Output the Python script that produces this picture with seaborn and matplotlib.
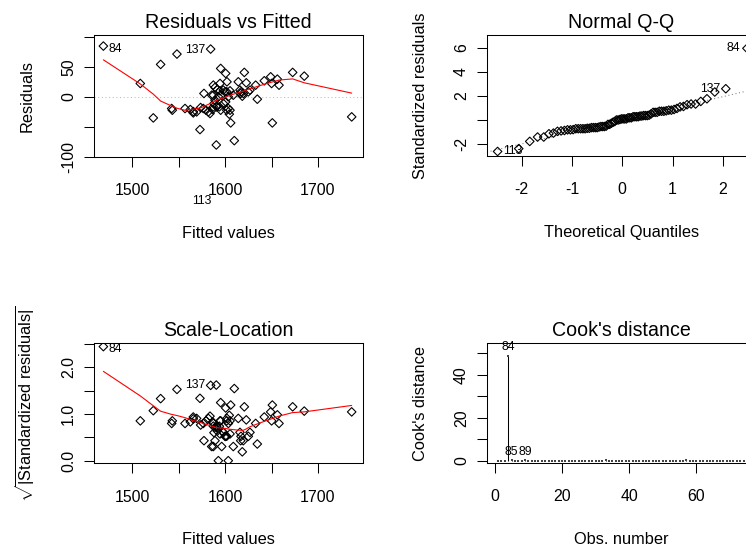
import numpy as np
import pandas as pd
import matplotlib
matplotlib.use("Agg")
import matplotlib.pyplot as plt
import seaborn as sns
from statistics import NormalDist

# ---------------- data ----------------
# observations in row order; row names start at 81
fitted = [1508.6, 1522.6, 1530.5, 1468.8,
          1542.4, 1543.1, 1548.1, 1556.8, 1562.5, 1565.7, 1569.3, 1572.9, 1573.6, 1576.5,
          1577.2, 1579.4, 1581.9, 1583.7, 1586.6, 1587.3, 1587.3, 1588.0, 1589.1, 1589.1,
          1590.9, 1591.6, 1592.7, 1593.8, 1594.5, 1595.2, 1595.2, 1596.3,
          1590.5,
          1598.1, 1598.1, 1600.6, 1600.6, 1601.7, 1602.0, 1603.5, 1604.5, 1605.3, 1605.3,
          1606.0, 1608.8, 1609.9, 1614.2, 1616.0, 1616.8, 1618.5, 1619.6, 1620.7, 1622.8,
          1625.0, 1626.8, 1632.9,
          1584.4,
          1634.7, 1642.2, 1649.1, 1650.1, 1650.9, 1656.3, 1658.1, 1672.8, 1685.3, 1736.4,
          1603.4, 1599.9, 1594.5, 1617.1, 1585.5, 1587.3, 1590.9, 1601.7, 1565.7]
residuals = [22.2, -35.0, 53.9, 84.4,
             -19.4, -22.2, 71.1, -19.4, -21.1, -24.5, -25.0, -54.4, -17.8, -19.4,
             5.6, -22.2, -25.0, -27.7, -21.0, 19.5, 2.8, -11.0, 15.6, -5.6,
             -15.5, 12.3, 0.0, -16.6, 10.0, 47.2, -22.2, 2.8,
             -80.0,
             11.2, -11.1, 38.9, -8.3, 8.4, 25.0, -19.4, -28.8, 10.0, -22.2,
             -43.3, 2.8, -72.8, 25.0, 11.2, 5.6, 1.1, 5.6, 40.6, 23.3,
             8.3, 11.2, 19.4,
             79.4,
             -3.9, 26.7, 33.3, 22.2, -43.3, 29.4, 19.4, 40.6, 34.4, -33.3,
             0.0, 8.3, 22.2, 8.3, 2.8, -16.7, -16.7, -22.2, -26.7]
cooks_distance = [0.12, 0.08, 0.15, 48.8, 0.45, 0.10, 0.05, 0.18, 0.40, 0.06,
                  0.09, 0.14, 0.04, 0.07, 0.11, 0.05, 0.16, 0.03, 0.08, 0.12,
                  0.06, 0.10, 0.04, 0.07, 0.13, 0.05, 0.09, 0.03, 0.06, 0.11,
                  0.08, 0.04, 0.30, 0.05, 0.07, 0.10, 0.03, 0.06, 0.09, 0.04,
                  0.12, 0.05, 0.08, 0.20, 0.06, 0.03, 0.07, 0.10, 0.04, 0.09,
                  0.05, 0.11, 0.06, 0.03, 0.08, 0.05, 0.28, 0.07, 0.04, 0.10,
                  0.06, 0.09, 0.05, 0.12, 0.03, 0.07, 0.08, 0.04, 0.06, 0.10,
                  0.05, 0.09, 0.07, 0.04, 0.06, 0.15]
first_row = 81
sigma = 30.5                       # residual standard error
std_override = {84: 5.97}          # high-leverage point (standardized residual)

titles = ["Residuals vs Fitted", "Normal Q-Q", "Scale-Location", "Cook's distance"]

# ---------------- derived quantities ----------------
n = len(fitted)
rows = np.arange(first_row, first_row + n)
fitted_a = np.array(fitted, float)
resid_a = np.array(residuals, float)
std_a = resid_a / sigma
for rname, v in std_override.items():
    std_a[rname - first_row] = v
sqrt_abs_std = np.sqrt(np.abs(std_a))
obs_index = np.arange(1, n + 1)
cook_a = np.array(cooks_distance, float)


def lowess(x, y, f=2 / 3, iters=3):
    x = np.asarray(x, float)
    y = np.asarray(y, float)
    o = np.argsort(x, kind="stable")
    x, y = x[o], y[o]
    m = len(x)
    ns = max(min(int(f * m + 1e-7), m), 2)
    rw = np.ones(m)
    ys = np.zeros(m)
    rng = x[-1] - x[0]
    for it in range(iters + 1):
        for i in range(m):
            d = np.abs(x - x[i])
            h = np.sort(d)[ns - 1]
            if h > 0:
                r = d / h
                w = np.where(r <= 0.999, (1 - r ** 3) ** 3, 0.0)
                w = np.where(d <= 0.001 * h, 1.0, w)
            else:
                w = (d == 0).astype(float)
            w = w * rw
            sw = w.sum()
            if sw <= 0:
                ys[i] = y[i]
                continue
            w = w / sw
            b = np.sum(w * x)
            c = np.sum(w * (x - b) ** 2)
            if h > 0 and np.sqrt(c) > 0.001 * rng:
                w = w * (1 + (x[i] - b) * (x - b) / c)
            ys[i] = np.sum(w * y)
        res = y - ys
        cmad = 6 * np.median(np.abs(res))
        if cmad < 1e-7 * np.mean(np.abs(y)):
            break
        u = np.abs(res) / cmad
        rw = np.where(u < 0.999, (1 - u ** 2) ** 2, 0.0)
        rw = np.where(u <= 0.001, 1.0, rw)
    return x, ys


# ---------------- styling ----------------
sns.set_theme(style="white")
plt.rcParams["font.family"] = ["Liberation Sans", "DejaVu Sans"]
plt.rcParams["mathtext.fontset"] = "custom"
plt.rcParams["mathtext.rm"] = "Liberation Sans"
plt.rcParams["mathtext.it"] = "Liberation Sans:italic"
plt.rcParams["mathtext.bf"] = "Liberation Sans:bold"
plt.rcParams["axes.unicode_minus"] = False

W, H = 746, 546
fig = plt.figure(figsize=(W / 100, H / 100), dpi=100)
fig.patch.set_facecolor("white")

PX = 0.72  # points per pixel at dpi 100
TICK_FS = 11.4
LAB_FS = 11.8
TITLE_FS = 14.15
ID_FS = 8.8


def rect(l, r, t, b):
    return [l / W, 1 - b / H, (r - l) / W, (b - t) / H]


def style_axes(ax, box, xlim, ylim, xticks, xlabels, yticks, ylabels, title, xlab, ylab):
    l, r, t, b = box
    ax.set_xlim(*xlim)
    ax.set_ylim(*ylim)
    ax.set_facecolor("white")
    for s in ax.spines.values():
        s.set_visible(True)
        s.set_color("black")
        s.set_linewidth(0.75)
    ax.tick_params(axis="both", direction="out", length=10 * PX, width=0.75,
                   color="black", labelcolor="black", labelsize=TICK_FS,
                   bottom=True, left=True, top=False, right=False)
    ax.tick_params(axis="x", pad=28.3 * PX)
    ax.tick_params(axis="y", pad=11 * PX)
    ax.set_xticks(xticks, xlabels)
    ax.set_yticks(yticks, ylabels)
    for lab in ax.get_xticklabels():
        lab.set_verticalalignment("baseline")
    for lab in ax.get_yticklabels():
        lab.set_rotation(90)
        lab.set_rotation_mode("anchor")
        lab.set_horizontalalignment("center")
        lab.set_verticalalignment("baseline")
    ax.set_title(title, fontsize=TITLE_FS, pad=7.3 * PX, color="black")
    ax.set_xlabel(xlab, fontsize=LAB_FS, color="black")
    ax.set_ylabel(ylab, fontsize=LAB_FS, color="black")
    ax.xaxis.label.set_verticalalignment("baseline")
    ax.yaxis.label.set_verticalalignment("baseline")
    ax.xaxis.set_label_coords(0.5, -80.6 / (b - t))
    ax.yaxis.set_label_coords(-62.3 / (r - l), 0.5)
    ax.grid(False)


def points(ax, x, y):
    sns.scatterplot(x=x, y=y, ax=ax, marker="D", s=19, facecolor="none",
                    edgecolor="black", linewidth=0.8, legend=False, zorder=3)


def label(ax, txt, x, y, dx, dy, ha):
    ax.annotate(txt, (x, y), xytext=(dx, dy), textcoords="offset pixels",
                ha=ha, va="center", fontsize=ID_FS, color="black",
                annotation_clip=False)


def idx(rname):
    return rname - first_row


# ---- Residuals vs Fitted ----
box1 = (94, 363, 35, 157)
ax1 = fig.add_axes(rect(*box1))
ax1.axhline(0, color="#BEBEBE", lw=0.75, ls=(0, (1, 2.5)), zorder=1)
points(ax1, fitted_a, resid_a)
lx, ly = lowess(fitted_a, resid_a)
sns.lineplot(x=lx, y=ly, ax=ax1, color="red", lw=0.8, sort=False, estimator=None, zorder=4)
style_axes(ax1, box1, (1458.7, 1748.6), (-100, 102.8),
           [1500, 1550, 1600, 1650, 1700], ["1500", "", "1600", "", "1700"],
           [-100, -50, 0, 50, 100], ["-100", "", "0", "50", ""],
           titles[0], "Fitted values", "Residuals")
i84, i113, i137 = idx(84), idx(113), idx(137)
label(ax1, "84", fitted_a[i84], resid_a[i84], 5, -3, "left")
label(ax1, "137", fitted_a[i137], resid_a[i137], -5.5, -1, "right")
label(ax1, "113", fitted_a[i113], resid_a[i113], -4.6, -56, "right")

# ---- Normal Q-Q ----
box2 = (487, 756, 35, 156)
ax2 = fig.add_axes(rect(*box2))
nd = NormalDist()
pp = (np.arange(1, n + 1) - 0.5) / n
theo = np.array([nd.inv_cdf(p) for p in pp])
order = np.argsort(std_a, kind="stable")
sample = std_a[order]
points(ax2, theo, sample)
yq = np.quantile(std_a, [0.25, 0.75])
xq = np.array([nd.inv_cdf(0.25), nd.inv_cdf(0.75)])
slope = (yq[1] - yq[0]) / (xq[1] - xq[0])
inter = yq[0] - slope * xq[0]
ax2.axline((0, inter), slope=slope, color="#7F7F7F", lw=0.75, ls=(0, (1, 2.5)), zorder=2)
style_axes(ax2, box2, (-2.69, 2.66), (-3.0, 7.08),
           [-2, -1, 0, 1, 2], ["-2", "-1", "0", "1", "2"],
           [-2, 0, 2, 4, 6], ["-2", "", "2", "4", "6"],
           titles[1], "Theoretical Quantiles", "Standardized residuals")
pos = {r: int(np.where(order == idx(r))[0][0]) for r in (84, 113, 137)}
label(ax2, "84", theo[pos[84]], sample[pos[84]], -6.8, 0, "right")
label(ax2, "137", theo[pos[137]], sample[pos[137]], -5.7, 0, "right")
label(ax2, "113", theo[pos[113]], sample[pos[113]], 5.2, 0, "left")

# ---- Scale-Location ----
box3 = (94, 363, 343.3, 463.3)
ax3 = fig.add_axes(rect(*box3))
points(ax3, fitted_a, sqrt_abs_std)
sx, sy = lowess(fitted_a, sqrt_abs_std)
sns.lineplot(x=sx, y=sy, ax=ax3, color="red", lw=0.8, sort=False, estimator=None, zorder=4)
style_axes(ax3, box3, (1458.7, 1748.6), (-0.056, 2.514),
           [1500, 1550, 1600, 1650, 1700], ["1500", "", "1600", "", "1700"],
           [0, 0.5, 1.0, 1.5, 2.0, 2.5], ["0.0", "", "1.0", "", "2.0", ""],
           titles[2], "Fitted values",
           r"$\sqrt{|\mathrm{Standardized\ residuals}|}$")
label(ax3, "84", fitted_a[i84], sqrt_abs_std[i84], 5, -2.4, "left")
label(ax3, "137", fitted_a[i137], sqrt_abs_std[i137], -5.5, 0, "right")

# ---- Cook's distance ----
box4 = (487, 756, 343.3, 463)
ax4 = fig.add_axes(rect(*box4))
ax4.vlines(obs_index, 0, cook_a, color="black", lw=0.75)
# the tiny spikes render as dots (line end caps), as in R's type = "h" plot
sns.scatterplot(x=obs_index, y=cook_a, ax=ax4, marker="s", s=1.0, color="#444444",
                linewidth=0, legend=False, zorder=3)
style_axes(ax4, box4, (-2.29, 77.7), (-0.93, 54.6),
           [0, 20, 40, 60], ["0", "20", "40", "60"],
           [0, 10, 20, 30, 40, 50], ["0", "", "20", "", "40", ""],
           titles[3], "Obs. number", "Cook's distance")
top3 = np.argsort(-cook_a, kind="stable")[:3]
for k in top3:
    label(ax4, str(rows[k]), obs_index[k], cook_a[k], 0, 8.5, "center")

fig.savefig("out.png", dpi=100, facecolor="white")
